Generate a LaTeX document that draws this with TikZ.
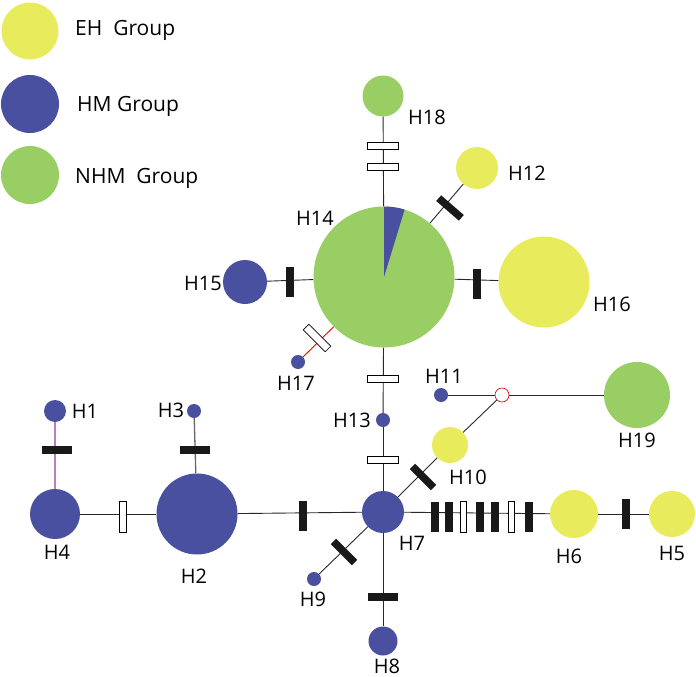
\documentclass[tikz,border=0pt]{standalone}
\usepackage{fontspec}
\setmainfont{Open Sans}
\definecolor{ehy}{RGB}{232,236,92}
\definecolor{hmb}{RGB}{74,80,160}
\definecolor{nhg}{RGB}{152,206,100}
\definecolor{lnk}{RGB}{40,40,40}
\definecolor{pur}{RGB}{190,125,190}
\begin{document}
\begin{tikzpicture}[x=1pt,y=-1pt,
  hap/.style={circle,inner sep=0pt,minimum size=#1},
  ehc/.style={hap=#1,fill=ehy},
  hmc/.style={hap=#1,fill=hmb},
  nhc/.style={hap=#1,fill=nhg},
  lab/.style={font=\fontsize{20}{20}\selectfont,text=black,inner sep=0pt},
  leg/.style={font=\fontsize{21}{21}\selectfont,text=black,inner sep=0pt,anchor=west},
  lnk/.style={draw=lnk,line width=0.9pt},
  mbar/.style={fill=black!90,inner sep=0pt,minimum width=30pt,minimum height=7.5pt},
  obar/.style={draw=black,line width=0.6pt,fill=white,inner sep=0pt,minimum width=31pt,minimum height=6.5pt}]
\useasboundingbox (0,0) rectangle (696,677);
% legend
\node[ehc=57pt] (lg1) at (30,31) {};
\node[hmc=58pt] (lg2) at (30,104) {};
\node[nhc=58pt] (lg3) at (30,175) {};
\node[leg] (lt1) at (75,30) {EH\ \ Group};
\node[leg] (lt2) at (77,106) {HM Group};
\node[leg] (lt3) at (75,178) {NHM\ \ Group};
% haplotypes
\node[nhc=141pt] (h14) at (384,277) {};
\node[nhc=41pt] (h18) at (383,96) {};
\node[ehc=42pt] (h12) at (477,168) {};
\node[ehc=91pt] (h16) at (544,282) {};
\node[hmc=44pt] (h15) at (245,282) {};
\node[hmc=14pt] (h17) at (298,362) {};
\node[hmc=14pt] (h13) at (383,420) {};
\node[hmc=42pt] (h7) at (383,512) {};
\node[hmc=14pt] (h11) at (441,395) {};
\node[circle,draw=red!80!black,line width=0.6pt,fill=white,inner sep=0pt,minimum size=14pt] (mv) at (502,395) {};
\node[nhc=66pt] (h19) at (637,395) {};
\node[ehc=36pt] (h10) at (450,445) {};
\node[ehc=48pt] (h6) at (574,514) {};
\node[ehc=46pt] (h5) at (672,514) {};
\node[hmc=14pt] (h9) at (314,579) {};
\node[hmc=29pt] (h8) at (383,641) {};
\node[hmc=81pt] (h2) at (197,514) {};
\node[hmc=50pt] (h4) at (55,514) {};
\node[hmc=22pt] (h1) at (55,411) {};
\node[hmc=14pt] (h3) at (194,411) {};
% blue wedge of H14
\fill[hmb] (384,277) -- (384,206.5) arc[start angle=90,end angle=73,radius=70.5pt] -- cycle;
% connectors
\draw[lnk] (h18) -- (h14);
\draw[lnk] (h14) -- (h12);
\draw[lnk] (h14) -- (h16);
\draw[lnk] (h15) -- (h14);
\draw[red,line width=0.9pt] (h17) -- (h14);
\draw[lnk] (h14) -- (h13);
\draw[lnk] (h13) -- (h7);
\draw[lnk] (h7) -- (h10);
\draw[lnk] (h10) -- (mv);
\draw[lnk] (h11) -- (mv);
\draw[lnk] (mv) -- (h19);
\draw[lnk] (h7) -- (h6);
\draw[lnk] (h6) -- (h5);
\draw[lnk] (h9) -- (h7);
\draw[lnk] (h7) -- (h8);
\draw[lnk] (h2) -- (h7);
\draw[lnk] (h4) -- (h2);
\draw[pur,line width=1.3pt] (h1) -- (h4);
\draw[black!60,line width=1.3pt] (h3) -- (h2);
% mutation marks
\node[obar] (m1) at (383,146) {};
\node[obar] (m2) at (383,167) {};
\node[mbar,rotate=-41] (m3) at (450,208) {};
\node[mbar,rotate=90] (m4) at (477,284) {};
\node[mbar,rotate=90] (m5) at (290,282) {};
\node[obar,rotate=-45,minimum height=8pt] (m6) at (317,338) {};
\node[obar] (m7) at (383,379) {};
\node[obar] (m8) at (383,460) {};
\node[mbar,rotate=-45] (m9) at (423,477) {};
\node[mbar,rotate=90] (b1) at (435,517) {};
\node[mbar,rotate=90] (b2) at (449,517) {};
\node[obar,rotate=90,minimum height=6pt] (b3) at (463,517) {};
\node[mbar,rotate=90] (b4) at (480,517) {};
\node[mbar,rotate=90] (b5) at (495,517) {};
\node[obar,rotate=90,minimum height=6pt] (b6) at (511,517) {};
\node[mbar,rotate=90] (b7) at (529,517) {};
\node[mbar,rotate=90] (b8) at (626,514) {};
\node[mbar,rotate=-45] (m10) at (344,552) {};
\node[mbar] (m11) at (383,597) {};
\node[mbar,rotate=90] (m12) at (303,516) {};
\node[obar,rotate=90] (m13) at (123,517) {};
\node[mbar] (m14) at (57,450) {};
\node[mbar] (m15) at (195,450) {};
% labels
\node[lab] (l18) at (427,117) {H18};
\node[lab] (l12) at (527,173) {H12};
\node[lab] (l14) at (315,218) {H14};
\node[lab] (l15) at (203,283) {H15};
\node[lab] (l16) at (612,304) {H16};
\node[lab] (l17) at (296,383) {H17};
\node[lab] (l13) at (352,420) {H13};
\node[lab] (l11) at (444,376) {H11};
\node[lab] (l19) at (637,440) {H19};
\node[lab] (l10) at (468,477) {H10};
\node[lab] (l7) at (412,543) {H7};
\node[lab] (l6) at (569,556) {H6};
\node[lab] (l5) at (672,553) {H5};
\node[lab] (l9) at (313,599) {H9};
\node[lab] (l8) at (387,666) {H8};
\node[lab] (l2) at (194,576) {H2};
\node[lab] (l4) at (57,552) {H4};
\node[lab] (l1) at (85,411) {H1};
\node[lab] (l3) at (171,410) {H3};
\end{tikzpicture}
\end{document}
